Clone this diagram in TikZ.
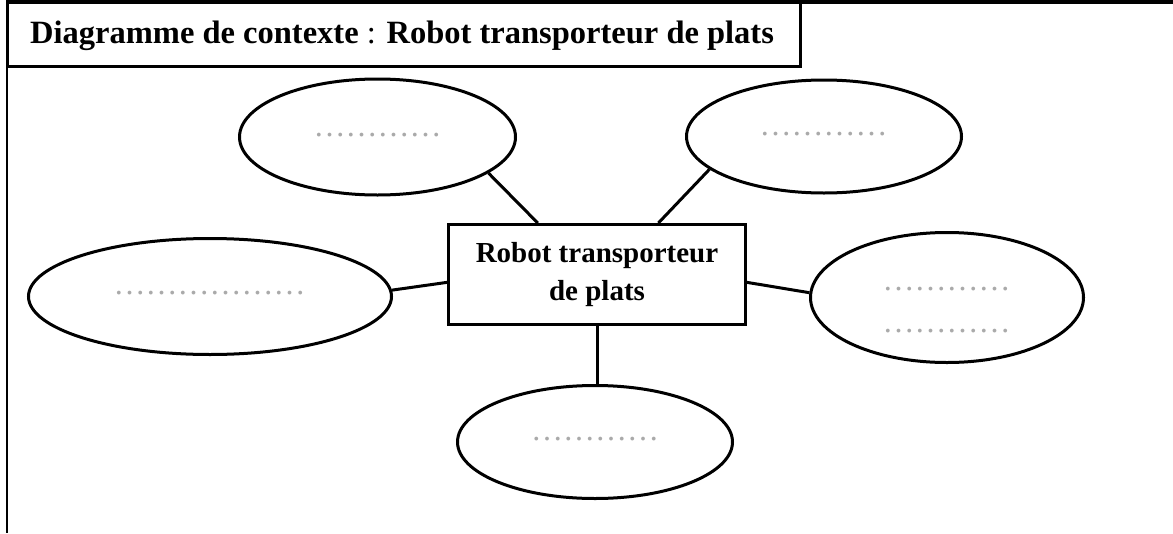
\documentclass[tikz,border=0pt]{standalone}
\usepackage{fontspec}
\setmainfont{Liberation Serif}
\usetikzlibrary{shapes.geometric,calc}
\definecolor{dotgray}{RGB}{170,170,170}
\tikzset{
  oval/.style={ellipse, draw=black, line width=3pt, inner sep=0pt},
  mainbox/.style={rectangle, draw=black, line width=3pt, inner sep=0pt, align=center,
    font=\fontsize{29}{38}\selectfont\bfseries},
  dotstext/.style={text=dotgray, inner sep=0pt, align=center, font=\fontsize{32}{42}\selectfont},
  link/.style={line width=3pt},
}
\begin{document}
\begin{tikzpicture}[x=1pt,y=-1pt]
\useasboundingbox (0,0) rectangle (1173,533);
% outer frame
\draw[line width=4pt] (7,2) -- (1173,2);
\draw[line width=2pt] (7,0) -- (7,533);
% title box
\draw[line width=3pt] (7,2) rectangle (800,66);
\node[anchor=base west, inner sep=0pt, font=\fontsize{32.5}{36}\selectfont] (title) at (30,43)
  {\textbf{Diagramme de contexte} : \textbf{Robot transporteur de plats}};
% central box
\node[mainbox, minimum width=297pt, minimum height=100pt] (box) at (597,274.5)
  {Robot transporteur\\de plats};
% ellipses
\node[oval, minimum width=276pt, minimum height=116pt] (etl) at (377.5,137) {};
\node[oval, minimum width=275pt, minimum height=113pt] (etr) at (824,136.5) {};
\node[oval, minimum width=363pt, minimum height=116pt] (el) at (210,296.5) {};
\node[oval, minimum width=273pt, minimum height=130pt] (er) at (947,297.5) {};
\node[oval, minimum width=275pt, minimum height=113pt] (eb) at (595,442) {};
% dotted placeholders
\node[dotstext] (tetl) at (377.5,135) {…………};
\node[dotstext] (tetr) at (823.5,134) {…………};
\node[dotstext] (tel) at (209.5,293) {………………};
\node[dotstext] (ter) at (946.5,310) {…………\\…………};
\node[dotstext] (teb) at (595,439) {…………};
% connectors
\draw[link] (etl.-18) -- (box.139);
\draw[link] (etr.196) -- (box.40);
\draw[link] (el.2) -- (box.183);
\draw[link] (er.178) -- (box.-3);
\draw[link] (box.south) -- (box.south |- eb.north);
\end{tikzpicture}
\end{document}
